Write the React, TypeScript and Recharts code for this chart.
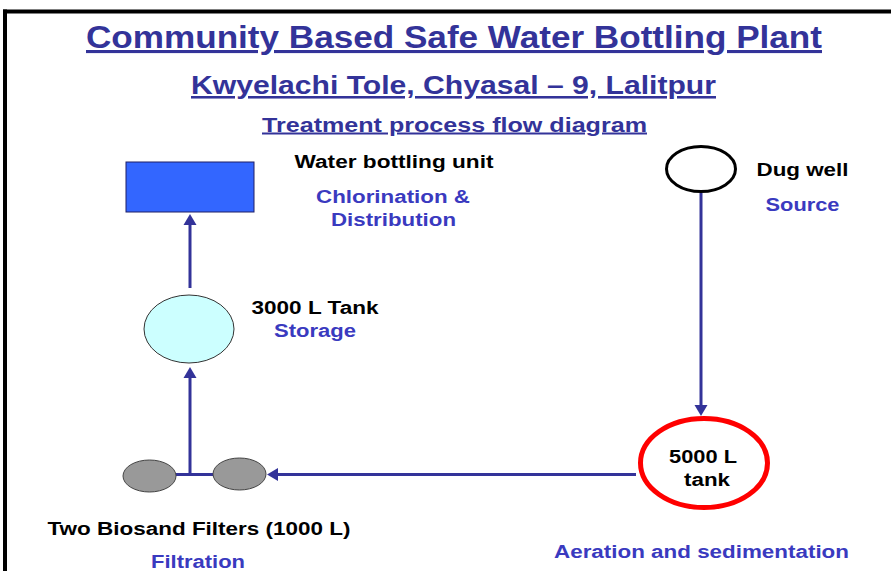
import { ScatterChart, Scatter, XAxis, YAxis, ReferenceLine } from 'recharts';

// diagram units map 1:1 onto the 891 x 571 canvas
const stageIds = ['well', 'sedTank', 'filterA', 'filterB', 'storage', 'bottling'];
const stageX = [701, 704, 149.5, 239.5, 189, 190];
const stageY = [169, 463, 476, 474, 329, 187];

const flowStart = [[701, 193], [636, 474.5], [176, 474.5], [190, 474.5], [190, 288]];
const flowEnd = [[701, 416], [267, 474.5], [213, 474.5], [190, 367], [190, 214]];
const flowArrow = [true, true, false, true, true];

const frameStart = [[3, 11.5], [5, 9.5]];
const frameEnd = [[891, 11.5], [5, 571]];

const labelText = [
  'Community Based Safe Water Bottling Plant',
  'Kwyelachi Tole, Chyasal – 9, Lalitpur',
  'Treatment process flow diagram',
  'Water bottling unit',
  'Chlorination &',
  'Distribution',
  '3000 L Tank',
  'Storage',
  'Dug well',
  'Source',
  '5000 L',
  'tank',
  'Two Biosand Filters (1000 L)',
  'Filtration',
  'Aeration and sedimentation',
];
const labelX = [454, 453.5, 454.5, 394, 393, 393.5, 315, 315, 802.5, 802.5, 703, 707, 199, 198, 701.5];
const labelY = [48, 94, 131.5, 168.3, 203.3, 225.7, 314, 337, 175.7, 210.7, 463.3, 486, 535, 567.5, 557.7];
const labelRole = [
  'title', 'subtitle', 'heading', 'unit', 'process', 'process', 'unit', 'process',
  'unit', 'process', 'unit', 'unit', 'unit', 'process', 'process',
];
const labelSpan = [736, 525, 385, 199, 154, 125, 127, 82, 92, 74, 68, 46, 303, 94, 295];

const nodes = stageIds.map((id, i) => ({ id, x: stageX[i], y: stageY[i] }));
const labels = labelText.map((text, i) => ({ text, x: labelX[i], y: labelY[i], role: labelRole[i], span: labelSpan[i] }));

const FONT = "Arial, 'Liberation Sans', sans-serif";
const INK = '#333399';

const roleStyle: Record<string, { size: number; color: string; underline?: boolean }> = {
  title: { size: 31, color: INK, underline: true },
  subtitle: { size: 25.5, color: INK, underline: true },
  heading: { size: 20, color: INK, underline: true },
  unit: { size: 18, color: '#000000' },
  process: { size: 18, color: '#3A3ABF' },
};

const NodeShape = (props: any) => {
  const { cx, cy, payload } = props;
  switch (payload.id) {
    case 'bottling':
      return <rect x={cx - 64} y={cy - 25} width={128} height={50} fill="#3366FF" stroke="#1F1F66" strokeWidth={1} />;
    case 'storage':
      return <ellipse cx={cx} cy={cy} rx={45} ry={34} fill="#CCFFFF" stroke="#333333" strokeWidth={1} />;
    case 'well':
      return <ellipse cx={cx} cy={cy} rx={34.5} ry={22.5} fill="#FFFFFF" stroke="#000000" strokeWidth={3} />;
    case 'sedTank':
      return <ellipse cx={cx} cy={cy} rx={63.5} ry={44.5} fill="#FFFFFF" stroke="#FF0000" strokeWidth={5} />;
    default:
      return <ellipse cx={cx} cy={cy} rx={26.5} ry={16} fill="#999999" stroke="#444444" strokeWidth={1} />;
  }
};

const LabelShape = (props: any) => {
  const { cx, cy, payload } = props;
  const s = roleStyle[payload.role];
  return (
    <text
      x={cx}
      y={cy}
      textAnchor="middle"
      fontFamily={FONT}
      fontWeight="bold"
      fontSize={s.size}
      fill={s.color}
      textLength={payload.span}
      lengthAdjust="spacingAndGlyphs"
      textDecoration={s.underline ? 'underline' : undefined}
    >
      {payload.text}
    </text>
  );
};

const FlowArrow = (props: any) => {
  const { x1, y1, x2, y2, head } = props;
  const dx = x2 - x1;
  const dy = y2 - y1;
  const len = Math.hypot(dx, dy) || 1;
  const ux = dx / len;
  const uy = dy / len;
  const hl = 11;
  const hw = 6.5;
  const bx = x2 - ux * hl;
  const by = y2 - uy * hl;
  return (
    <g>
      <line x1={x1} y1={y1} x2={head ? bx + ux : x2} y2={head ? by + uy : y2} stroke={INK} strokeWidth={3} />
      {head && (
        <polygon
          points={`${x2},${y2} ${bx - uy * hw},${by + ux * hw} ${bx + uy * hw},${by - ux * hw}`}
          fill={INK}
        />
      )}
    </g>
  );
};

export default function App() {
  return (
    <div style={{ position: 'absolute', left: 0, top: 0, width: 891, height: 571, background: '#fff' }}>
      <ScatterChart width={891} height={571} margin={{ top: 0, right: 0, bottom: 0, left: 0 }}>
        <XAxis type="number" dataKey="x" domain={[0, 891]} hide />
        <YAxis type="number" dataKey="y" domain={[0, 571]} reversed hide />
        {frameStart.map((p, i) => (
          <ReferenceLine
            key={`frame-${i}`}
            segment={[{ x: p[0], y: p[1] }, { x: frameEnd[i][0], y: frameEnd[i][1] }]}
            stroke="#000000"
            strokeWidth={4}
            ifOverflow="visible"
          />
        ))}
        {flowStart.map((p, i) => (
          <ReferenceLine
            key={`flow-${i}`}
            segment={[{ x: p[0], y: p[1] }, { x: flowEnd[i][0], y: flowEnd[i][1] }]}
            ifOverflow="visible"
            shape={(sp: any) => <FlowArrow {...sp} head={flowArrow[i]} />}
          />
        ))}
        <Scatter data={nodes} shape={NodeShape} isAnimationActive={false} />
        <Scatter data={labels} shape={LabelShape} isAnimationActive={false} />
      </ScatterChart>
    </div>
  );
}
